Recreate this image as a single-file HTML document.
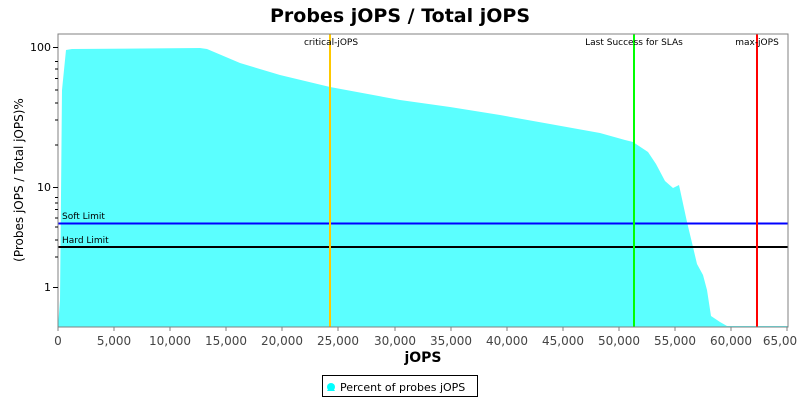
<!DOCTYPE html>
<html><head><style>body{margin:0;background:#fff}</style></head><body>
<svg width="800" height="400" xmlns="http://www.w3.org/2000/svg" font-family="'DejaVu Sans', 'Liberation Sans', sans-serif">
<rect width="800" height="400" fill="#fff"/>
<text x="400" y="22" text-anchor="middle" font-size="19" font-weight="bold">Probes jOPS / Total jOPS</text>
<path d="M58,327 L60,300 L62,90 L66,50 L72,49 L200,48 L207,49 L240,63 L280,75 L330,87 L400,100 L450,107 L500,115 L550,124 L600,133 L625,140 L633,142 L648,152 L656,164 L665,181 L673,188 L679,185 L687,222 L693,247 L697,264 L703,275 L707,290 L711,316 L720,322 L727,326 L788,326 L788,327 Z" fill="#5bffff"/>
<line x1="58" y1="223.5" x2="788" y2="223.5" stroke="#0000ff" stroke-width="2"/>
<line x1="58" y1="247" x2="788" y2="247" stroke="#000" stroke-width="2"/>
<line x1="330" y1="34" x2="330" y2="327" stroke="#ffc800" stroke-width="2"/>
<line x1="634" y1="34" x2="634" y2="327" stroke="#00ff00" stroke-width="2"/>
<line x1="757" y1="34" x2="757" y2="327" stroke="#ff0000" stroke-width="2"/>
<g font-size="9" fill="#000">
<text x="62" y="219">Soft Limit</text>
<text x="62" y="243">Hard Limit</text>
<text x="331" y="45" text-anchor="middle">critical-jOPS</text>
<text x="634" y="45" text-anchor="middle">Last Success for SLAs</text>
<text x="757" y="45" text-anchor="middle">max-jOPS</text>
</g>
<rect x="58" y="34" width="730" height="293" fill="none" stroke="#808080"/>
<g stroke="#000" stroke-width="1">
<line x1="53" y1="47.5" x2="58" y2="47.5"/>
<line x1="53" y1="187.5" x2="58" y2="187.5"/>
<line x1="53" y1="287.5" x2="58" y2="287.5"/>
<line x1="55" y1="61.5" x2="58" y2="61.5"/><line x1="55" y1="69" x2="58" y2="69"/><line x1="55" y1="78.5" x2="58" y2="78.5"/><line x1="55" y1="90" x2="58" y2="90"/><line x1="55" y1="103" x2="58" y2="103"/><line x1="55" y1="120" x2="58" y2="120"/><line x1="55" y1="145" x2="58" y2="145"/>
<line x1="55" y1="197.5" x2="58" y2="197.5"/><line x1="55" y1="203" x2="58" y2="203"/><line x1="55" y1="209.5" x2="58" y2="209.5"/><line x1="55" y1="218" x2="58" y2="218"/><line x1="55" y1="227" x2="58" y2="227"/><line x1="55" y1="240" x2="58" y2="240"/><line x1="55" y1="257" x2="58" y2="257"/>
</g>
<g font-size="11" text-anchor="end" fill="#000">
<text x="51" y="51">100</text><text x="51" y="191">10</text><text x="51" y="291">1</text>
</g>
<g stroke="#808080">
<line x1="58" y1="327" x2="58" y2="331"/><line x1="114" y1="327" x2="114" y2="331"/><line x1="170" y1="327" x2="170" y2="331"/><line x1="226" y1="327" x2="226" y2="331"/><line x1="282" y1="327" x2="282" y2="331"/><line x1="338" y1="327" x2="338" y2="331"/><line x1="395" y1="327" x2="395" y2="331"/><line x1="451" y1="327" x2="451" y2="331"/><line x1="507" y1="327" x2="507" y2="331"/><line x1="563" y1="327" x2="563" y2="331"/><line x1="619" y1="327" x2="619" y2="331"/><line x1="675" y1="327" x2="675" y2="331"/><line x1="731" y1="327" x2="731" y2="331"/><line x1="787" y1="327" x2="787" y2="331"/>
</g>
<g font-size="12" text-anchor="middle" fill="#444">
<text x="58" y="345">0</text><text x="114" y="345">5,000</text><text x="170" y="345">10,000</text><text x="226" y="345">15,000</text><text x="282" y="345">20,000</text><text x="338" y="345">25,000</text><text x="395" y="345">30,000</text><text x="451" y="345">35,000</text><text x="507" y="345">40,000</text><text x="563" y="345">45,000</text><text x="619" y="345">50,000</text><text x="675" y="345">55,000</text><text x="731" y="345">60,000</text><text x="780" y="345">65,00</text>
</g>
<text x="423" y="362" text-anchor="middle" font-size="14" font-weight="bold">jOPS</text>
<text transform="translate(23,180) rotate(-90)" text-anchor="middle" font-size="12">(Probes jOPS / Total jOPS)%</text>
<rect x="322.5" y="375.5" width="155" height="21" fill="#fff" stroke="#000"/>
<path d="M331,385 L335,391 L327,391 Z" fill="#00ffff"/>
<circle cx="331" cy="387" r="4" fill="#00ffff"/>
<text x="340" y="391" font-size="11">Percent of probes jOPS</text>
</svg>
</body></html>
